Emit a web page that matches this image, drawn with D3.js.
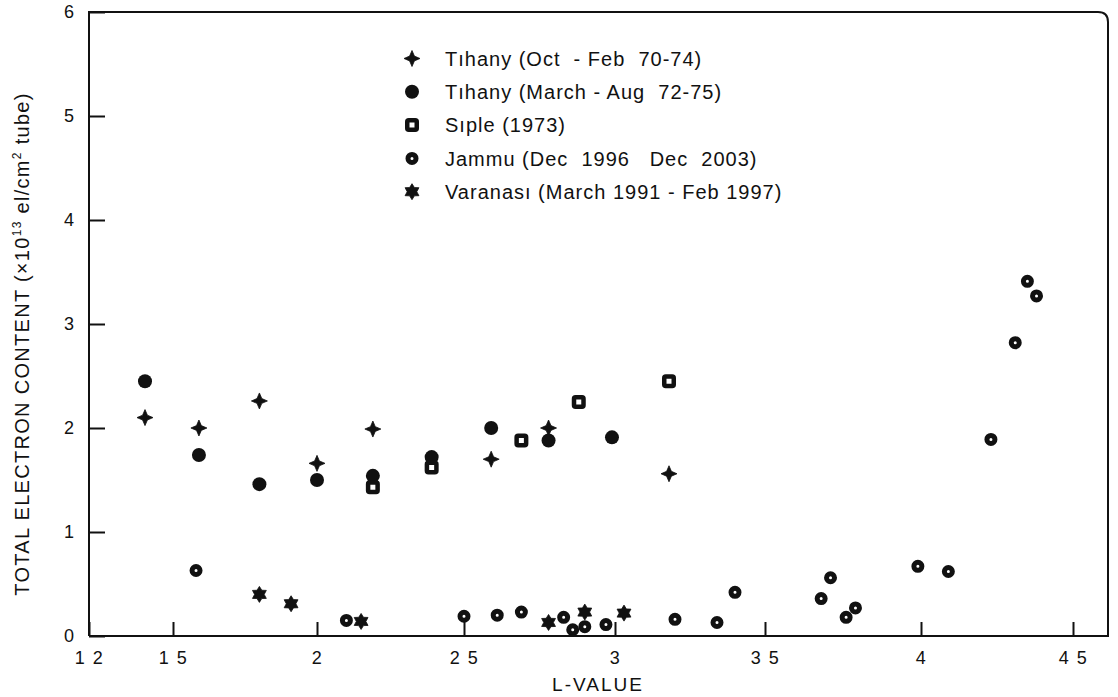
<!DOCTYPE html>
<html>
<head>
<meta charset="utf-8">
<script src="https://cdn.jsdelivr.net/npm/d3@7"></script>
<style>
  body { margin: 0; background: #fff; }
  text { font-family: "Liberation Sans", Arial, sans-serif; fill: #111; }
</style>
</head>
<body>
<script>
// x ticks as printed (the decimal points got lost in the scan)
var xTicks = [1.2, 1.5, 2, 2.5, 3, 3.5, 4, 4.5];
var xTickLabels = ["1 2", "1 5", "2", "2 5", "3", "3 5", "4", "4 5"];
var yTicks = [0, 1, 2, 3, 4, 5, 6];

// Tihany (Oct - Feb 70-74)
var tihanyWinterL   = [1.40, 1.59, 1.80, 2.00, 2.19, 2.59, 2.78, 3.18];
var tihanyWinterTEC = [2.10, 2.00, 2.26, 1.66, 1.99, 1.70, 2.00, 1.56];

// Tihany (March - Aug 72-75)
var tihanySummerL   = [1.40, 1.59, 1.80, 2.00, 2.19, 2.39, 2.59, 2.78, 2.99];
var tihanySummerTEC = [2.45, 1.74, 1.46, 1.50, 1.54, 1.72, 2.00, 1.88, 1.91];

// Siple (1973)
var sipleL   = [2.19, 2.39, 2.69, 2.88, 3.18];
var sipleTEC = [1.43, 1.62, 1.88, 2.25, 2.45];

// Jammu (Dec 1996 - Dec 2003)
var jammuL   = [1.58, 2.10, 2.50, 2.61, 2.69, 2.83, 2.86, 2.90, 2.97, 3.20, 3.34,
                3.40, 3.68, 3.71, 3.76, 3.79, 3.99, 4.09, 4.23, 4.31, 4.35, 4.38];
var jammuTEC = [0.63, 0.15, 0.19, 0.20, 0.23, 0.18, 0.06, 0.09, 0.11, 0.16, 0.13,
                0.42, 0.36, 0.56, 0.18, 0.27, 0.67, 0.62, 1.89, 2.82, 3.41, 3.27];

// Varanasi (March 1991 - Feb 1997)
var varanasiL   = [1.80, 1.91, 2.15, 2.78, 2.90, 3.03];
var varanasiTEC = [0.40, 0.31, 0.14, 0.13, 0.23, 0.22];

var seriesNames = [
  "Tıhany (Oct  - Feb  70-74)",
  "Tıhany (March - Aug  72-75)",
  "Sıple (1973)",
  "Jammu (Dec  1996   Dec  2003)",
  "Varanası (March 1991 - Feb 1997)"
];

var width = 1118, height = 697;

// the scanned axis is not quite even, so the scale follows the printed ticks
var xScale = d3.scaleLinear()
    .domain([1.2, 1.5, 2, 2.5, 3, 3.5, 4, 4.5, 4.62])
    .range([89, 173, 317, 464, 615, 765, 921, 1073, 1108]);
var yScale = d3.scaleLinear().domain([0, 6]).range([636, 12]);

var svg = d3.select("body").append("svg")
    .attr("width", width)
    .attr("height", height);

// symbol shapes
var plusShape = {draw: function(c, size) {
  var a = 8, b = 2.4;
  c.moveTo(0, -a); c.lineTo(b, -b); c.lineTo(a, 0); c.lineTo(b, b);
  c.lineTo(0, a); c.lineTo(-b, b); c.lineTo(-a, 0); c.lineTo(-b, -b);
  c.closePath();
}};
var starShape = {draw: function(c, size) {
  for (var i = 0; i < 12; i++) {
    var r = i % 2 ? 4.8 : 8, ang = i * Math.PI / 6 - Math.PI / 2;
    if (i == 0) c.moveTo(r * Math.cos(ang), r * Math.sin(ang));
    else c.lineTo(r * Math.cos(ang), r * Math.sin(ang));
  }
  c.closePath();
}};

function drawMarker(g, kind) {
  if (kind == 0) {
    g.append("path").attr("d", d3.symbol().type(plusShape)()).attr("fill", "#111")
        .attr("stroke", "#111").attr("stroke-width", 0.8).attr("stroke-linejoin", "round");
  } else if (kind == 1) {
    g.append("circle").attr("r", 7).attr("fill", "#111");
  } else if (kind == 2) {
    g.append("rect").attr("x", -4.75).attr("y", -4.75)
        .attr("width", 9.5).attr("height", 9.5).attr("rx", 1.5)
        .attr("fill", "#fff").attr("stroke", "#111").attr("stroke-width", 4.5);
  } else if (kind == 3) {
    g.append("circle").attr("r", 4).attr("fill", "#fff")
        .attr("stroke", "#111").attr("stroke-width", 5);
  } else {
    g.append("path").attr("d", d3.symbol().type(starShape)()).attr("fill", "#111")
        .attr("stroke", "#111").attr("stroke-width", 0.8).attr("stroke-linejoin", "round");
  }
}

// frame: left + bottom axis lines, top edge curling down into the right edge
var x0 = xScale(1.2), x1 = xScale(4.62), yTop = yScale(6), yBot = yScale(0);
svg.append("path")
    .attr("d", "M" + x0 + "," + yBot + "V" + yTop + "H" + (x1 - 10)
      + "Q" + x1 + "," + yTop + " " + x1 + "," + (yTop + 10) + "V" + yBot + "H" + x0)
    .attr("fill", "none")
    .attr("stroke", "#111")
    .attr("stroke-width", 2);

// x-axis
var xAxis = svg.append("g")
    .attr("transform", "translate(0," + yBot + ")")
    .call(d3.axisBottom(xScale)
      .tickValues(xTicks)
      .tickFormat(function(d, i) { return xTickLabels[i]; })
      .tickSizeInner(-14)
      .tickSizeOuter(0)
      .tickPadding(15));
xAxis.select(".domain").remove();
xAxis.selectAll("line").attr("stroke", "#111").attr("stroke-width", 2);
xAxis.selectAll("text").attr("font-size", 18).attr("fill", "#111")
    .attr("letter-spacing", 1.5)
    .style("white-space", "pre")
    .style("font-family", "'Liberation Sans', Arial, sans-serif");

// y-axis
var yAxis = svg.append("g")
    .attr("transform", "translate(" + x0 + ",0)")
    .call(d3.axisLeft(yScale)
      .tickValues(yTicks)
      .tickFormat(d3.format("d"))
      .tickSizeInner(-16)
      .tickSizeOuter(0)
      .tickPadding(15));
yAxis.select(".domain").remove();
yAxis.selectAll("line").attr("stroke", "#111").attr("stroke-width", 2);
yAxis.selectAll("text").attr("font-size", 18).attr("fill", "#111")
    .style("font-family", "'Liberation Sans', Arial, sans-serif");

// axis titles
svg.append("text")
    .attr("x", 598)
    .attr("y", 691)
    .attr("text-anchor", "middle")
    .attr("font-size", 19)
    .attr("letter-spacing", 2)
    .text("L-VALUE");

var yTitle = svg.append("text")
    .attr("transform", "translate(29,344) rotate(-90)")
    .attr("text-anchor", "middle")
    .attr("font-size", 20)
    .attr("letter-spacing", 1.3);
yTitle.append("tspan").text("TOTAL ELECTRON CONTENT (\u00d710");
yTitle.append("tspan").attr("font-size", 12).attr("dy", -8).text("13");
yTitle.append("tspan").attr("dy", 8).text(" el/cm");
yTitle.append("tspan").attr("font-size", 12).attr("dy", -8).text("2");
yTitle.append("tspan").attr("dy", 8).text(" tube)");

// draw points
var allSeries = [
  [tihanyWinterL, tihanyWinterTEC],
  [tihanySummerL, tihanySummerTEC],
  [sipleL, sipleTEC],
  [jammuL, jammuTEC],
  [varanasiL, varanasiTEC]
];
allSeries.forEach(function(s, k) {
  var pts = s[0].map(function(l, i) { return {l: l, v: s[1][i]}; });
  svg.append("g").selectAll("g")
      .data(pts)
    .enter().append("g")
      .attr("transform", function(d) { return "translate(" + xScale(d.l) + "," + yScale(d.v) + ")"; })
      .each(function() { drawMarker(d3.select(this), k); });
});

// legend
var legend = svg.append("g")
  .selectAll("g")
  .data(seriesNames)
  .enter().append("g")
    .attr("transform", function(d, i) { return "translate(412," + (58.5 + i * 33.3) + ")"; });

legend.each(function(d, i) { drawMarker(d3.select(this), i); });

legend.append("text")
    .attr("x", 33)
    .attr("dy", "0.36em")
    .attr("font-size", 20)
    .attr("letter-spacing", 1)
    .style("white-space", "pre")
    .text(function(d) { return d; });
</script>
</body>
</html>
